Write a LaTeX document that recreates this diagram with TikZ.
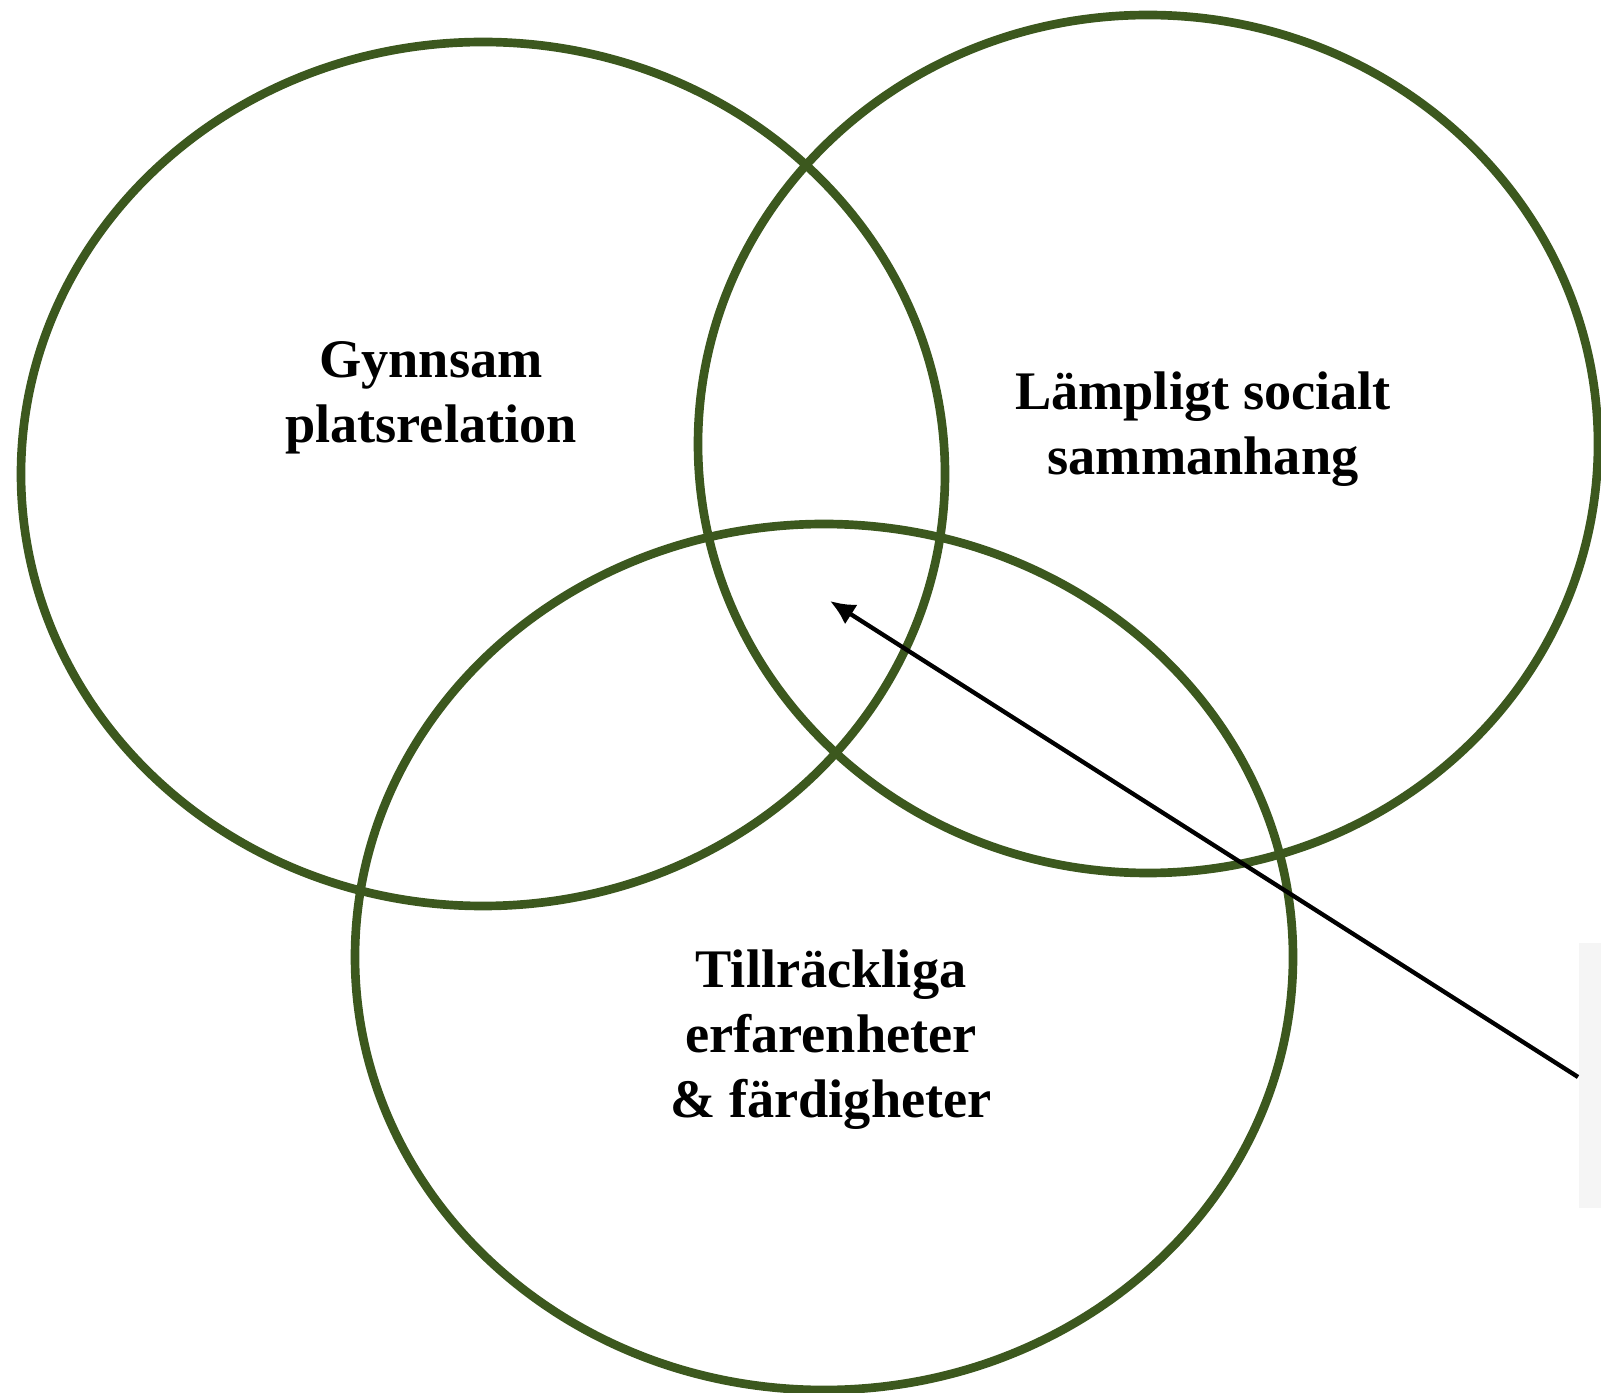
\documentclass[tikz,border=0pt]{standalone}
\usepackage{fontspec}
\setmainfont{Liberation Serif}
\usetikzlibrary{arrows.meta}
\definecolor{ringgreen}{RGB}{60,88,30}

\begin{document}
\begin{tikzpicture}[x=0.3pt,y=-0.3pt,line width=2.6pt,>={Latex[length=7.5pt,width=7pt]},
  lbl/.style={font=\bfseries\fontsize{16.3}{19.5}\selectfont,align=center}]
  \useasboundingbox (0,0) rectangle (1601,1393);
  % grå ruta i högerkanten
  \fill[black!4] (1579,943) rectangle (1601,1208);
  % de tre ringarna
  \draw[ringgreen] (483,474) ellipse [x radius=462,y radius=432];
  \draw[ringgreen] (1148,444) ellipse [x radius=450,y radius=429];
  \draw[ringgreen] (824,957) ellipse [x radius=469,y radius=433];
  % texter
  \node[lbl] (plats) at (431,398) {Gynnsam\\platsrelation};
  \node[lbl] (social) at (1203,429) {Lämpligt socialt\\sammanhang};
  \node[lbl] (erfar) at (831,1040) {Tillräckliga\\erfarenheter\\ \& färdigheter};
  % pil mot mitten
  \coordinate (mitt) at (830,601);
  \coordinate (kant) at (1578,1077);
  \draw[->,line width=1.3pt] (kant) -- (mitt);
\end{tikzpicture}
\end{document}
